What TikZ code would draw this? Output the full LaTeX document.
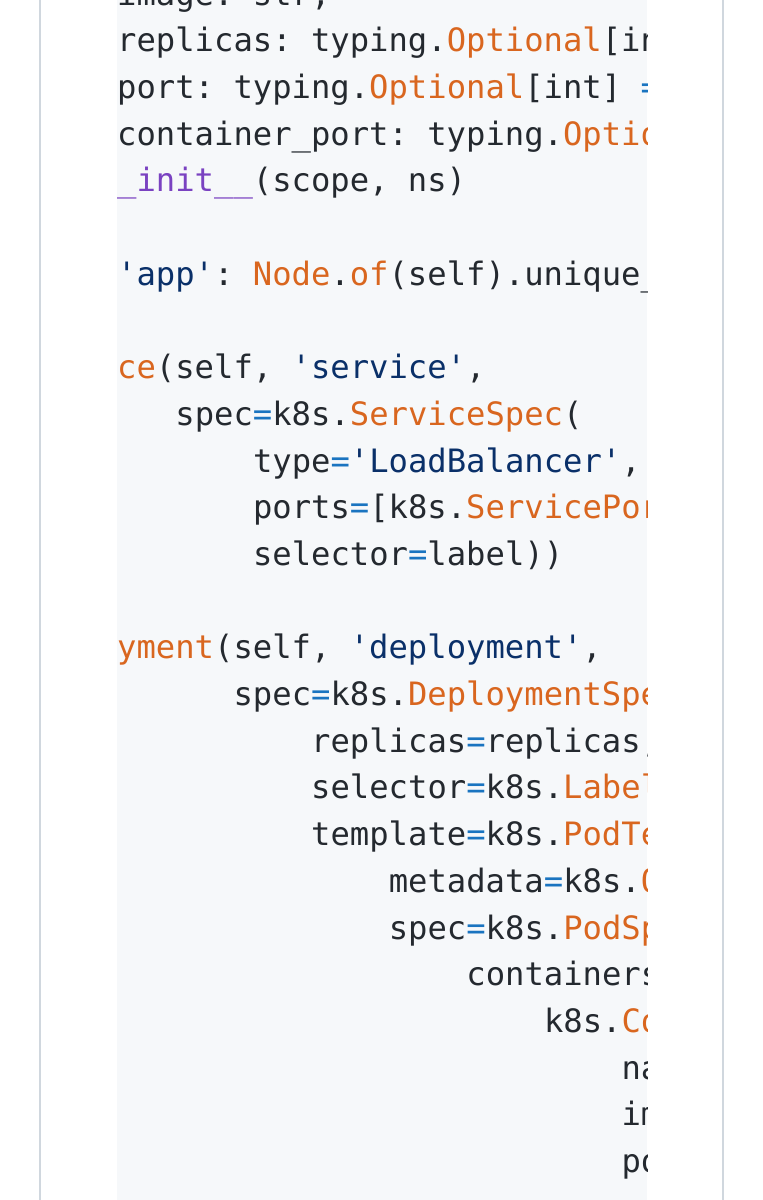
\documentclass[tikz,border=0pt]{standalone}
\usepackage{fontspec}
\setmonofont{DejaVu Sans Mono}
\definecolor{txt}{HTML}{24292F}
\definecolor{kw}{HTML}{D9661F}
\definecolor{st}{HTML}{0A3069}
\definecolor{eqc}{HTML}{1A74C0}
\definecolor{fn}{HTML}{7A42C1}
\definecolor{codebg}{HTML}{F6F8FA}
\definecolor{bord}{HTML}{D0D7DE}
\newcommand{\ko}[1]{\textcolor{kw}{#1}}
\newcommand{\ks}[1]{\textcolor{st}{#1}}
\newcommand{\ke}{\textcolor{eqc}{=}}
\begin{document}
\begin{tikzpicture}[x=1pt,y=-1pt,
  code/.style={anchor=base west,inner sep=0pt,font=\ttfamily\fontsize{32.2}{40}\selectfont,text=txt}]
\useasboundingbox (0,0) rectangle (763,1200);
\fill[white] (0,0) rectangle (763,1200);
\fill[codebg] (117,0) rectangle (647,1200);
\draw[bord,line width=2pt] (40,0) -- (40,1200);
\draw[bord,line width=2pt] (723,0) -- (723,1200);
\begin{scope}
\clip (117,0) rectangle (647,1200);
\def\ch{19.4}
\def\lh{46.7}
\node[code] (l0) at (117+0*\ch,5+0*\lh) {image: str,};
\node[code] (l1) at (117+0*\ch,5+1*\lh) {replicas: typing.\ko{Optional}[int] \ke{} None,};
\node[code] (l2) at (117+0*\ch,5+2*\lh) {port: typing.\ko{Optional}[int] \ke{} None,};
\node[code] (l3) at (117+0*\ch,5+3*\lh) {container\_port: typing.\ko{Optional}[int] \ke{} 8080):};
\node[code] (l4) at (117+0*\ch,5+4*\lh) {\textcolor{fn}{\_init\_\_}(scope, ns)};
\node[code] (l6) at (117+0*\ch,5+6*\lh) {\ks{'app'}: \ko{Node}.\ko{of}(self).unique\_id\}};
\node[code] (l8) at (117+0*\ch,5+8*\lh) {\ko{ce}(self, \ks{'service'},};
\node[code] (l9) at (117+3*\ch,5+9*\lh) {spec\ke{}k8s.\ko{ServiceSpec}(};
\node[code] (l10) at (117+7*\ch,5+10*\lh) {type\ke\ks{'LoadBalancer'},};
\node[code] (l11) at (117+7*\ch,5+11*\lh) {ports\ke{}[k8s.\ko{ServicePort}(port\ke{}port)],};
\node[code] (l12) at (117+7*\ch,5+12*\lh) {selector\ke{}label))};
\node[code] (l14) at (117+0*\ch,5+14*\lh) {\ko{yment}(self, \ks{'deployment'},};
\node[code] (l15) at (117+6*\ch,5+15*\lh) {spec\ke{}k8s.\ko{DeploymentSpec}(};
\node[code] (l16) at (117+10*\ch,5+16*\lh) {replicas\ke{}replicas,};
\node[code] (l17) at (117+10*\ch,5+17*\lh) {selector\ke{}k8s.\ko{LabelSelector}(};
\node[code] (l18) at (117+10*\ch,5+18*\lh) {template\ke{}k8s.\ko{PodTemplateSpec}(};
\node[code] (l19) at (117+14*\ch,5+19*\lh) {metadata\ke{}k8s.\ko{ObjectMeta}(};
\node[code] (l20) at (117+14*\ch,5+20*\lh) {spec\ke{}k8s.\ko{PodSpec}(};
\node[code] (l21) at (117+18*\ch,5+21*\lh) {containers\ke{}[};
\node[code] (l22) at (117+22*\ch,5+22*\lh) {k8s.\ko{Container}(};
\node[code] (l23) at (117+26*\ch,5+23*\lh) {name\ke\ks{'app'},};
\node[code] (l24) at (117+26*\ch,5+24*\lh) {image\ke{}image,};
\node[code] (l25) at (117+26*\ch,5+25*\lh) {ports\ke{}[};
\end{scope}
\end{tikzpicture}
\end{document}
